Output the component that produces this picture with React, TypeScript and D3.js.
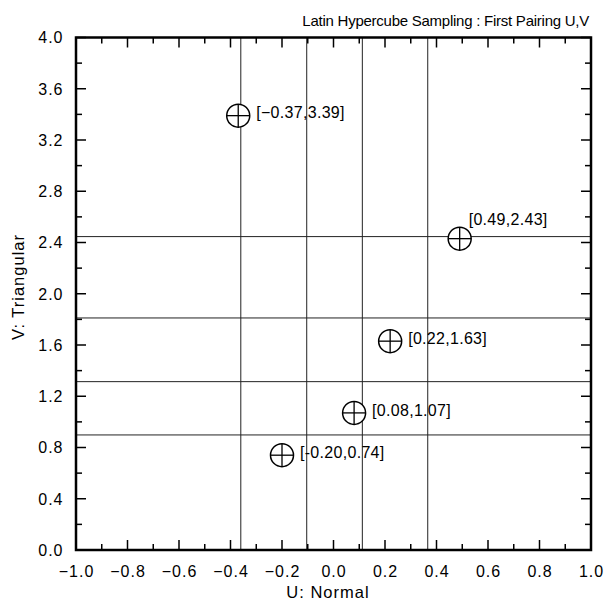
import React from "react";
import * as d3 from "d3";

const titleText = "Latin Hypercube Sampling : First Pairing U,V";
const xAxisLabel = "U: Normal";
const yAxisLabel = "V: Triangular";

const uBoundaries = [-0.36, -0.104, 0.112, 0.366];
const vBoundaries = [0.898, 1.314, 1.811, 2.446];

const pointsU = [-0.37, 0.49, 0.22, 0.08, -0.2];
const pointsV = [3.39, 2.43, 1.63, 1.07, 0.74];
const pointLabels = ["[\u22120.37,3.39]", "[0.49,2.43]", "[0.22,1.63]", "[0.08,1.07]", "[-0.20,0.74]"];
const labelAbove = [false, true, false, false, false];

const xMajorTicks = d3.range(-10, 11, 2).map((d) => d / 10);
const xMinorTicks = d3.range(-9, 10, 2).map((d) => d / 10);
const yMajorTicks = d3.range(0, 41, 4).map((d) => d / 10);
const yMinorTicks = d3.range(2, 40, 4).map((d) => d / 10);

const W = 606;
const H = 607;
const left = 76;
const right = 591;
const top = 37.5;
const bottom = 550;
const FONT = "'Liberation Sans', Arial, Helvetica, sans-serif";

export default function App() {
  const x = d3.scaleLinear().domain([-1, 1]).range([left, right]);
  const y = d3.scaleLinear().domain([0, 4]).range([bottom, top]);
  const fmt = d3.format(".1f");
  const major = 10;
  const minor = 6;
  const r = 11.5;

  return (
    <svg
      width={W}
      height={H}
      style={{ position: "absolute", left: 0, top: 0, background: "#fff" }}
      fontFamily={FONT}
    >
      <rect x={0} y={0} width={W} height={H} fill="#fff" />
      {/* strata lines */}
      {uBoundaries.map((u, i) => (
        <line key={"u" + i} x1={x(u)} x2={x(u)} y1={top} y2={bottom} stroke="#222" strokeWidth={1} />
      ))}
      {vBoundaries.map((v, i) => (
        <line key={"v" + i} x1={left} x2={right} y1={y(v)} y2={y(v)} stroke="#222" strokeWidth={1} />
      ))}
      {/* ticks */}
      {xMajorTicks.map((t, i) => (
        <g key={"xm" + i}>
          <line x1={x(t)} x2={x(t)} y1={bottom} y2={bottom - major} stroke="#000" strokeWidth={1.5} />
          <line x1={x(t)} x2={x(t)} y1={top} y2={top + major} stroke="#000" strokeWidth={1.5} />
          <text x={x(t) + 0.5} y={577} textAnchor="middle" fontSize={16} letterSpacing={1} fill="#000">
            {fmt(t)}
          </text>
        </g>
      ))}
      {xMinorTicks.map((t, i) => (
        <g key={"xn" + i}>
          <line x1={x(t)} x2={x(t)} y1={bottom} y2={bottom - minor} stroke="#000" strokeWidth={1.5} />
          <line x1={x(t)} x2={x(t)} y1={top} y2={top + minor} stroke="#000" strokeWidth={1.5} />
        </g>
      ))}
      {yMajorTicks.map((t, i) => (
        <g key={"ym" + i}>
          <line x1={left} x2={left + major} y1={y(t)} y2={y(t)} stroke="#000" strokeWidth={1.5} />
          <line x1={right} x2={right - major} y1={y(t)} y2={y(t)} stroke="#000" strokeWidth={1.5} />
          <text x={63.5} y={y(t)} dy="0.36em" textAnchor="end" fontSize={16} letterSpacing={1} fill="#000">
            {fmt(t)}
          </text>
        </g>
      ))}
      {yMinorTicks.map((t, i) => (
        <g key={"yn" + i}>
          <line x1={left} x2={left + minor} y1={y(t)} y2={y(t)} stroke="#000" strokeWidth={1.5} />
          <line x1={right} x2={right - minor} y1={y(t)} y2={y(t)} stroke="#000" strokeWidth={1.5} />
        </g>
      ))}
      {/* frame */}
      <rect x={left} y={top} width={right - left} height={bottom - top} fill="none" stroke="#000" strokeWidth={2.5} />
      {/* points */}
      {pointsU.map((u, i) => {
        const cx = x(u);
        const cy = y(pointsV[i]);
        return (
          <g key={"p" + i}>
            <circle cx={cx} cy={cy} r={r} fill="#fff" stroke="#000" strokeWidth={1.5} />
            <line x1={cx - r} x2={cx + r} y1={cy} y2={cy} stroke="#000" strokeWidth={1.3} />
            <line x1={cx} x2={cx} y1={cy - r} y2={cy + r} stroke="#000" strokeWidth={1.3} />
            {labelAbove[i] ? (
              <text x={cx + 9} y={cy - 14} fontSize={16} letterSpacing={0.3} fill="#000">
                {pointLabels[i]}
              </text>
            ) : (
              <text x={cx + 18} y={cy - 3} dy="0.36em" fontSize={16} letterSpacing={0.3} fill="#000">
                {pointLabels[i]}
              </text>
            )}
          </g>
        );
      })}
      {/* titles */}
      <text x={589} y={26} textAnchor="end" fontSize={15} letterSpacing={-0.25} fill="#000">
        {titleText}
      </text>
      <text x={328} y={598} textAnchor="middle" fontSize={16.5} letterSpacing={1} fill="#000">
        {xAxisLabel}
      </text>
      <text
        transform={`translate(24,287) rotate(-90)`}
        textAnchor="middle"
        fontSize={16.5}
        letterSpacing={1}
        fill="#000"
      >
        {yAxisLabel}
      </text>
    </svg>
  );
}
